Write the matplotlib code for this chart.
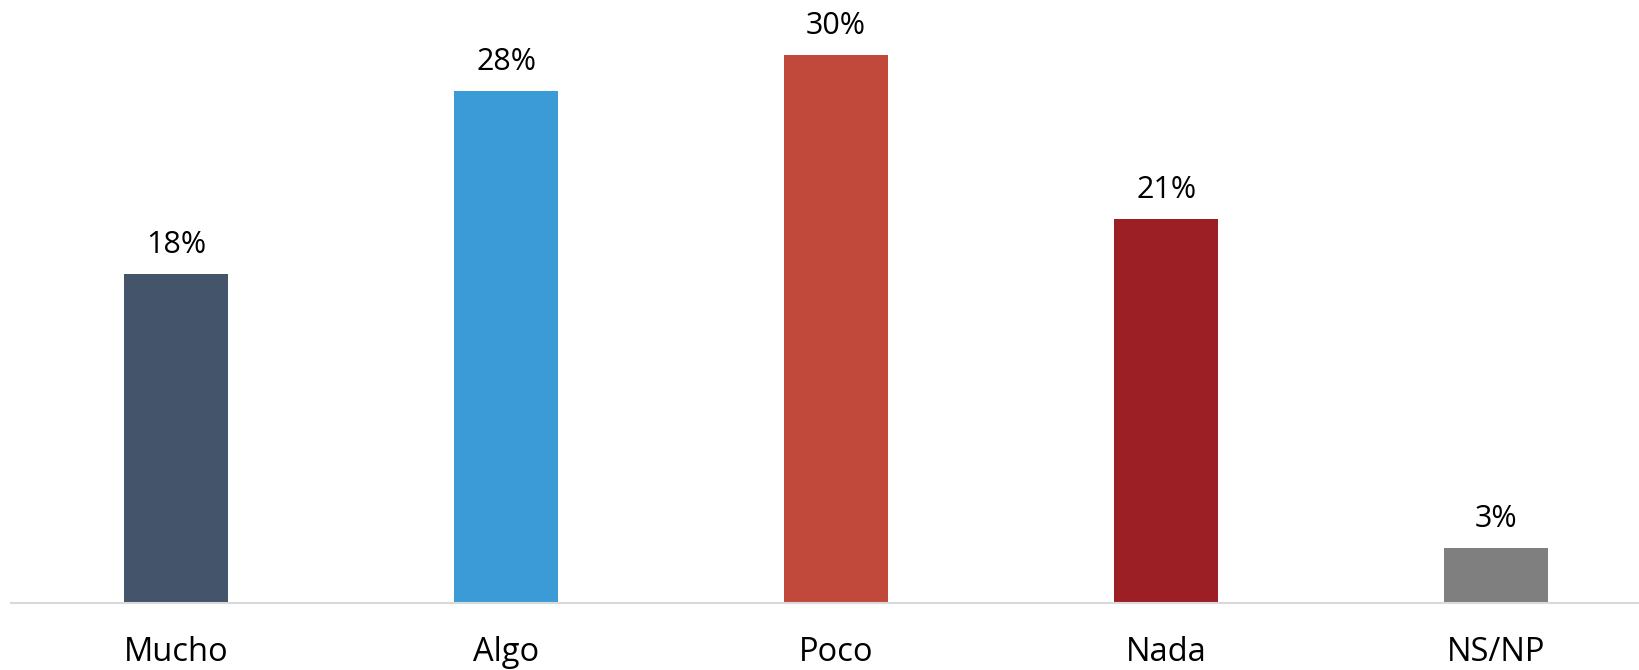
import matplotlib.pyplot as plt

categories = ['Mucho', 'Algo', 'Poco', 'Nada', 'NS/NP']
values = [18, 28, 30, 21, 3]
colors = ['#44546A', '#3A9BD6', '#C0493B', '#9B1F24', '#7F7F7F']

plt.rcParams['font.family'] = ['Open Sans', 'DejaVu Sans']

fig = plt.figure(figsize=(16.39, 6.70), dpi=100)
ax = fig.add_axes([11 / 1639, 67 / 670, 1 - 11 / 1639, 1 - 67 / 670])

x = list(range(len(categories)))
bars = ax.bar(x, values, width=0.315, color=colors)

for xi, v in zip(x, values):
    ax.annotate(f'{v}%', (xi, v), xytext=(0, 10), textcoords='offset points',
                ha='center', va='bottom', fontsize=22, color='black')

ax.set_xlim(-0.5, 4.433)
ax.set_ylim(0, 33)
ax.set_xticks(x)
ax.set_xticklabels(categories, fontsize=23.5)
ax.tick_params(axis='x', length=0, pad=24)
ax.set_yticks([])
for side in ['top', 'right', 'left']:
    ax.spines[side].set_visible(False)
ax.spines['bottom'].set_color('#D9D9D9')
ax.spines['bottom'].set_linewidth(1.5)

fig.savefig('out.png', dpi=100)
